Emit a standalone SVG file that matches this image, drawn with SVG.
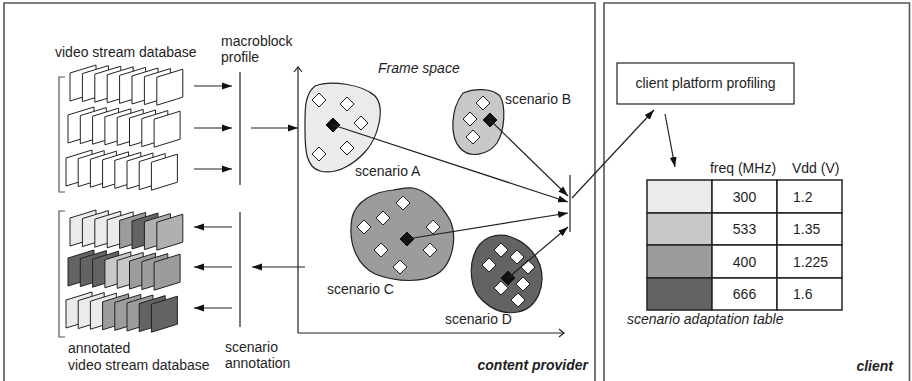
<svg xmlns="http://www.w3.org/2000/svg" xmlns:xlink="http://www.w3.org/1999/xlink" width="912" height="381" viewBox="0 0 912 381">
<style>
text{font-family:"Liberation Sans",Arial,sans-serif;font-size:14px;fill:#1e1e1e}
.it{font-style:italic}
.bi{font-style:italic;font-weight:bold}
.panel{fill:none;stroke:#555;stroke-width:1.6}
.fr{stroke:#222;stroke-width:1;stroke-linejoin:miter}
.w{fill:#fff}.a{fill:#ebebeb}.b{fill:#c8c8c8}.b2{fill:#b0b0b0}.c{fill:#9c9c9c}.d{fill:#636363}
.brk{fill:none;stroke:#555;stroke-width:1.2}
.ln{fill:none;stroke:#222;stroke-width:1.2}
.blob{stroke:#222;stroke-width:1.2}
.dw{fill:#fff;stroke:#222;stroke-width:1}
.dk{fill:#111;stroke:#111;stroke-width:1}
.arr{fill:none;stroke:#222;stroke-width:1.2;marker-end:url(#ah)}
.ax{fill:none;stroke:#222;stroke-width:1.2;marker-end:url(#oh)}
.cell{stroke:#222;stroke-width:1.5}
</style>
<defs>
<marker id="ah" markerUnits="userSpaceOnUse" markerWidth="11" markerHeight="8" refX="10" refY="4" orient="auto"><path d="M0,0.5 L10,4 L0,7.5 z" fill="#111"/></marker>
<marker id="oh" markerUnits="userSpaceOnUse" markerWidth="8" markerHeight="10" refX="6" refY="5" orient="auto"><path d="M1,1 L6,5 L1,9" fill="none" stroke="#222" stroke-width="1.2"/></marker>
<polygon id="f" points="0,0 26,-8 26,20 0,28"/>
<path id="dm" d="M0,-7 L7,0 L0,7 L-7,0 Z"/>
</defs>

<g id="panels">
<path class="panel" d="M4,382 V3 H595 V382"/>
<path class="panel" d="M604,382 V3 H909.5 V382"/>
</g>

<g id="video-db">
<text x="55" y="57">video stream database</text>
<path class="brk" d="M65,77 H59 V192 H65"/>
<g class="fr w">
<use xlink:href="#f" x="70" y="73"/><use xlink:href="#f" x="82.4" y="73.6"/><use xlink:href="#f" x="94.8" y="74.2"/><use xlink:href="#f" x="107.2" y="74.8"/><use xlink:href="#f" x="119.6" y="75.4"/><use xlink:href="#f" x="132" y="76"/><use xlink:href="#f" x="144.4" y="76.6"/><use xlink:href="#f" x="156.8" y="77.2"/>
<use xlink:href="#f" x="68" y="115"/><use xlink:href="#f" x="80.3" y="115.6"/><use xlink:href="#f" x="92.6" y="116.2"/><use xlink:href="#f" x="104.9" y="116.8"/><use xlink:href="#f" x="117.2" y="117.4"/><use xlink:href="#f" x="129.5" y="118"/><use xlink:href="#f" x="141.8" y="118.6"/><use xlink:href="#f" x="154.1" y="119.2"/>
<use xlink:href="#f" x="66" y="158"/><use xlink:href="#f" x="78.2" y="158.6"/><use xlink:href="#f" x="90.4" y="159.2"/><use xlink:href="#f" x="102.6" y="159.8"/><use xlink:href="#f" x="114.8" y="160.4"/><use xlink:href="#f" x="127" y="161"/><use xlink:href="#f" x="139.2" y="161.6"/><use xlink:href="#f" x="151.4" y="162.2"/>
</g>
</g>

<g id="annotated-db">
<path class="brk" d="M65,211 H59 V337 H65"/>
<g class="fr">
<use class="a" xlink:href="#f" x="70" y="218"/><use class="a" xlink:href="#f" x="82.4" y="218.6"/><use class="a" xlink:href="#f" x="94.8" y="219.2"/><use class="a" xlink:href="#f" x="107.2" y="219.8"/><use class="c" xlink:href="#f" x="119.6" y="220.4"/><use class="d" xlink:href="#f" x="132" y="221"/><use class="b2" xlink:href="#f" x="144.4" y="221.6"/><use class="b2" xlink:href="#f" x="156.8" y="222.2"/>
<use class="d" xlink:href="#f" x="68" y="258"/><use class="d" xlink:href="#f" x="80.3" y="258.6"/><use class="d" xlink:href="#f" x="92.6" y="259.2"/><use class="b" xlink:href="#f" x="104.9" y="259.8"/><use class="b" xlink:href="#f" x="117.2" y="260.4"/><use class="c" xlink:href="#f" x="129.5" y="261"/><use class="c" xlink:href="#f" x="141.8" y="261.6"/><use class="c" xlink:href="#f" x="154.1" y="262.2"/>
<use class="a" xlink:href="#f" x="66" y="300"/><use class="a" xlink:href="#f" x="78.2" y="300.6"/><use class="a" xlink:href="#f" x="90.4" y="301.2"/><use class="c" xlink:href="#f" x="102.6" y="301.8"/><use class="c" xlink:href="#f" x="114.8" y="302.4"/><use class="c" xlink:href="#f" x="127" y="303"/><use class="d" xlink:href="#f" x="139.2" y="303.6"/><use class="d" xlink:href="#f" x="151.4" y="304.2"/>
</g>
<text x="68" y="353">annotated</text>
<text x="68" y="370">video stream database</text>
</g>

<g id="macroblock-profile">
<text x="221" y="46">macroblock</text>
<text x="221" y="62">profile</text>
<line class="ln" x1="240" y1="72" x2="240" y2="185"/>
</g>

<g id="scenario-annotation">
<line class="ln" x1="240" y1="212" x2="240" y2="327"/>
<text x="225" y="352">scenario</text>
<text x="225" y="368">annotation</text>
</g>

<g id="frame-space">
<text class="it" x="378" y="73">Frame space</text>
<path class="ax" d="M298,333 V67"/>
<path class="ax" d="M298,333 H564"/>
</g>

<g id="scenario-A">
<path class="blob a" d="M315,86 C330,80 362,84 375,96 C386,108 378,138 365,152 C352,166 335,175 320,171 C306,167 305,150 305,130 C305,110 304,95 315,86 Z"/>
<use class="dw" xlink:href="#dm" x="319" y="100"/><use class="dw" xlink:href="#dm" x="347" y="104"/><use class="dw" xlink:href="#dm" x="361" y="123"/><use class="dw" xlink:href="#dm" x="319" y="154"/><use class="dw" xlink:href="#dm" x="347" y="148"/>
<use class="dk" xlink:href="#dm" x="333" y="125"/>
<text x="355" y="176">scenario A</text>
</g>

<g id="scenario-B">
<path class="blob b" d="M463,93 C475,88 492,88 500,96 C506,106 505,130 497,143 C488,155 470,159 460,148 C450,137 450,110 463,93 Z"/>
<use class="dw" xlink:href="#dm" x="483" y="103"/><use class="dw" xlink:href="#dm" x="470" y="119"/><use class="dw" xlink:href="#dm" x="473" y="137"/>
<use class="dk" xlink:href="#dm" x="490" y="120"/>
<text x="505" y="104">scenario B</text>
</g>

<g id="scenario-C">
<path class="blob c" d="M413,188 C425,190 440,202 450,220 C458,238 452,262 440,272 C425,284 395,282 375,274 C355,264 348,240 352,218 C356,200 375,192 393,190 C400,189 406,187 413,188 Z"/>
<use class="dw" xlink:href="#dm" x="403" y="203"/><use class="dw" xlink:href="#dm" x="383" y="218"/><use class="dw" xlink:href="#dm" x="364" y="227"/><use class="dw" xlink:href="#dm" x="433" y="227"/><use class="dw" xlink:href="#dm" x="381" y="250"/><use class="dw" xlink:href="#dm" x="430" y="250"/><use class="dw" xlink:href="#dm" x="400" y="267"/>
<use class="dk" xlink:href="#dm" x="407" y="239"/>
<text x="327" y="294">scenario C</text>
</g>

<g id="scenario-D">
<path class="blob d" d="M490,237 C510,230 532,245 540,265 C546,285 538,308 518,312 C498,316 478,302 473,285 C468,265 474,243 490,237 Z"/>
<use class="dw" xlink:href="#dm" x="501" y="250"/><use class="dw" xlink:href="#dm" x="517" y="257"/><use class="dw" xlink:href="#dm" x="489" y="265"/><use class="dw" xlink:href="#dm" x="528" y="267"/><use class="dw" xlink:href="#dm" x="523" y="284"/><use class="dw" xlink:href="#dm" x="501" y="288"/><use class="dw" xlink:href="#dm" x="518" y="300"/>
<use class="dk" xlink:href="#dm" x="508" y="278"/>
<text x="445" y="324">scenario D</text>
</g>

<g id="collector">
<line class="ln" x1="570" y1="175" x2="570" y2="232"/>
</g>

<g id="client-profiling">
<rect x="617" y="63" width="177" height="41" fill="#fff" stroke="#222" stroke-width="1.2"/>
<text x="705.5" y="88" text-anchor="middle">client platform profiling</text>
</g>

<g id="adaptation-table">
<text x="743" y="173" text-anchor="middle">freq (MHz)</text>
<text x="792" y="173">Vdd (V)</text>
<rect class="cell a" x="647" y="180" width="65" height="33"/>
<rect class="cell b" x="647" y="213" width="65" height="32"/>
<rect class="cell c" x="647" y="245" width="65" height="33"/>
<rect class="cell d" x="647" y="278" width="65" height="32"/>
<g class="cell" fill="#fff">
<rect x="712" y="180" width="65" height="33"/><rect x="777" y="180" width="65" height="33"/>
<rect x="712" y="213" width="65" height="32"/><rect x="777" y="213" width="65" height="32"/>
<rect x="712" y="245" width="65" height="33"/><rect x="777" y="245" width="65" height="33"/>
<rect x="712" y="278" width="65" height="32"/><rect x="777" y="278" width="65" height="32"/>
</g>
<text x="744.5" y="201.5" text-anchor="middle">300</text><text x="793" y="201.5">1.2</text>
<text x="744.5" y="234" text-anchor="middle">533</text><text x="793" y="234">1.35</text>
<text x="744.5" y="266.5" text-anchor="middle">400</text><text x="793" y="266.5">1.225</text>
<text x="744.5" y="299" text-anchor="middle">666</text><text x="793" y="299">1.6</text>
<text class="it" x="627" y="324">scenario adaptation table</text>
</g>

<g id="labels">
<text class="bi" x="588" y="370" text-anchor="end">content provider</text>
<text class="bi" x="893" y="371" text-anchor="end">client</text>
</g>

<g id="connectors">
<line class="arr" x1="194" y1="86" x2="232" y2="86"/>
<line class="arr" x1="194" y1="128" x2="232" y2="128"/>
<line class="arr" x1="194" y1="169" x2="232" y2="169"/>
<line class="arr" x1="251" y1="128" x2="298" y2="128"/>
<line class="arr" x1="305" y1="267" x2="252" y2="267"/>
<line class="arr" x1="232" y1="227" x2="194" y2="227"/>
<line class="arr" x1="232" y1="267" x2="194" y2="267"/>
<line class="arr" x1="232" y1="308" x2="194" y2="308"/>
<line class="arr" x1="333" y1="125" x2="568" y2="202"/>
<line class="arr" x1="490" y1="120" x2="568" y2="196"/>
<line class="arr" x1="407" y1="239" x2="568" y2="213"/>
<line class="arr" x1="508" y1="278" x2="568" y2="227"/>
<line class="arr" x1="572" y1="198" x2="654" y2="110"/>
<line class="arr" x1="665" y1="114" x2="675" y2="167"/>
</g>
</svg>
